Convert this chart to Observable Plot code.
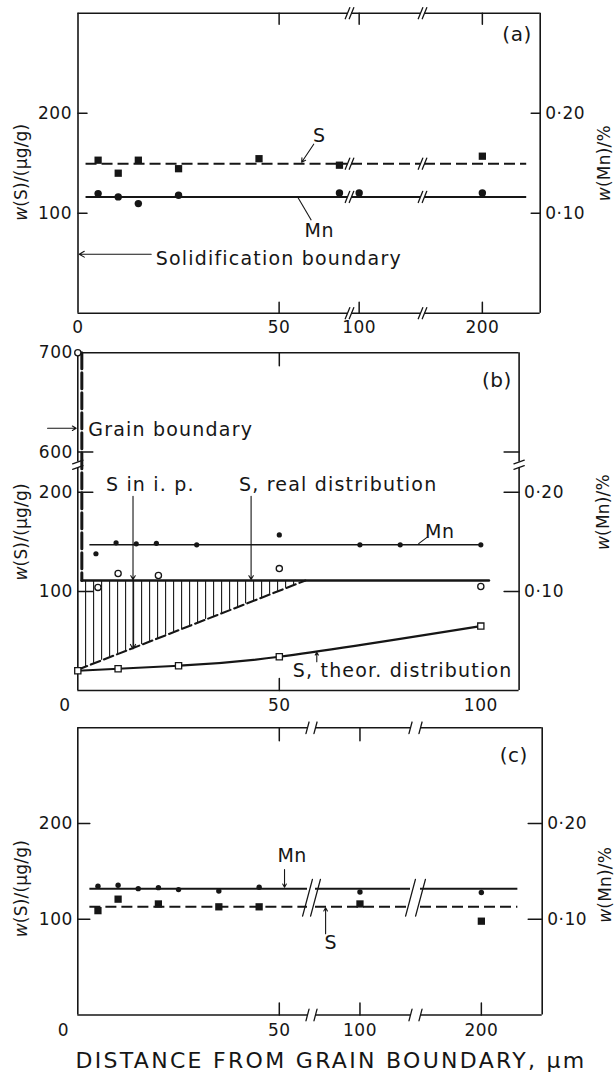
<!DOCTYPE html>
<html><head><meta charset="utf-8">
<script src="https://cdn.jsdelivr.net/npm/d3@7"></script>
<script src="https://cdn.jsdelivr.net/npm/@observablehq/plot@0.6"></script>
<style>
body{margin:0;background:#fff;}
#chart svg{display:block;}
</style></head><body><div id="chart"></div>
<script>
// ================= DATA =================
// ---- panel (a) ----
const aS_x   = [5, 10, 15, 25, 45, 65, 200];
const aS_y   = [153, 140, 153, 144.5, 154.5, 148, 157];          // w(S) µg/g
const aMn_x  = [5, 10, 15, 25, 65, 100, 200];
const aMn_y  = [0.1196, 0.1163, 0.1096, 0.118, 0.1203, 0.1203, 0.1203]; // w(Mn) %
const aS_level = 149.5;
const aMn_level = 0.1163;
const aXTicks = [0, 50, 100, 200];
const aXTickLabels = ["0", "50", "100", "200"];

// ---- panel (b) ----
const bMn_x = [4.5, 9.5, 14.5, 19.5, 29.5, 50, 70, 80, 100];
const bMn_y = [0.138, 0.149, 0.148, 0.1485, 0.147, 0.157, 0.147, 0.147, 0.147];
const bMn_level = 0.147;
const bSmeas_x = [0, 5, 10, 20, 50, 100];
const bSmeas_y = [700, 104, 118, 116, 123, 105];
const bTheor_x = [0, 10, 25, 50, 100];
const bTheor_y = [20, 22, 25, 34, 65];
const bReal_x = [1, 1, 102];          // real S distribution: spike at grain boundary then flat
const bReal_y = [700, 111, 111];
const bIP_x = [0, 56.5];              // lower limit of S in inclusion particles
const bIP_y = [21, 111];
const bXTicks = [50, 100];
const bXTickLabels = ["50", "100"];
const bYTicks = [100, 200, 600, 700];

// ---- panel (c) ----
const cMn_x = [5, 10, 15, 20, 25, 35, 45, 100, 200];
const cMn_y = [0.1345, 0.1355, 0.132, 0.133, 0.131, 0.1295, 0.1335, 0.1285, 0.128];
const cS_x  = [5, 10, 20, 35, 45, 100, 200];
const cS_y  = [109, 121, 116, 113, 113, 116, 98];
const cS_level = 113;
const cMn_level = 0.132;
const cXTicks = [50, 100, 200];
const cXTickLabels = ["50", "100", "200"];

// common
const yTicks = [100, 200];
const yRightLabels = ["0·10", "0·20"];
const leftTitle = "w(S)/(µg/g)";
const rightTitle = "w(Mn)/%";
const xTitle = "DISTANCE FROM GRAIN BOUNDARY, µm";
const MN_TO_S = 1000; // right axis: 0·10 % aligned with 100 µg/g

// ================= HELPERS =================
const ink = "#161616";
const baseStyle = {fontFamily: "DejaVu Sans", fontSize: "17px", background: "#fff", color: ink, overflow: "visible", letterSpacing: "0.5px"};
const pts = (xs, ys, k = 1) => xs.map((x, i) => ({x, y: ys[i] * k}));
const vec = (data, o) => Plot.vector(data, {r: 0, anchor: "start", stroke: ink, strokeWidth: 1.5, ...o});
const brk = (data, o) => Plot.vector(data, {r: 0, anchor: "middle", length: 12, rotate: 22, stroke: ink, strokeWidth: 1.3, ...o});
const segRule = (segs, y, o) => Plot.ruleY(segs, {y, x1: d => d[0], x2: d => d[1], stroke: ink, strokeWidth: 1.6, ...o});
const arrow = (d, o) => Plot.arrow([d], {x1: "x1", y1: "y1", x2: "x2", y2: "y2", stroke: ink, strokeWidth: 1.1, headLength: 7, ...o});
const label = (txt, x, y, o) => Plot.text([txt], {x: () => x, y: () => y, text: d => d, fill: ink, fontSize: 19, ...o});
const title = (txt, anchor, y, dx) => Plot.text([txt], {frameAnchor: anchor, y: () => y, dx, rotate: -90, textAnchor: "middle", text: d => d, fill: ink, fontSize: 17});

function yAxes(ticks, leftPad, rightPad) {
  return [
    Plot.axisY({anchor: "left", ticks, tickSize: 0, tickPadding: leftPad, label: null, tickFormat: d => String(d), fontSize: 17}),
    Plot.axisY({anchor: "right", ticks: yTicks, tickSize: 0, tickPadding: rightPad, label: null, tickFormat: d => yRightLabels[yTicks.indexOf(d)], fontSize: 17})
  ];
}

// ================= PANEL (a) =================
const aXDomain = [0, 67, 95, 140, 170, 230];
const aXRange  = [77.5, 347, 351, 420, 424, 539.7];
const aFrameSegs = [[0, 67], [95, 140], [170, 230]];
const aLineSegs  = [[2, 67], [95, 140], [170, 223]];
const aBreaks = [67, 95, 140, 170];

const A = Plot.plot({
  width: 614, height: 340, marginLeft: 77.5, marginRight: 74.3, marginTop: 12.7, marginBottom: 27.3,
  style: baseStyle,
  x: {type: "linear", domain: aXDomain, range: aXRange, axis: null},
  y: {type: "linear", domain: [0, 300]},
  marks: [
    segRule(aFrameSegs, 300), segRule(aFrameSegs, 0),
    Plot.ruleX([0, 230], {y1: 0, y2: 300, stroke: ink, strokeWidth: 1.6}),
    vec([50, 100, 200], {x: d => d, y: 300, rotate: 180, length: 11}),
    vec([50, 100, 200], {x: d => d, y: 0, rotate: 0, length: 11}),
    vec(yTicks, {x: 0, y: d => d, rotate: 90, length: 9}),
    vec(yTicks, {x: 230, y: d => d, rotate: 270, length: 9}),
    brk(aBreaks, {x: d => d, y: 300}), brk(aBreaks, {x: d => d, y: 0}),
    segRule(aLineSegs, aS_level, {strokeDasharray: "11,5", strokeWidth: 1.9}),
    segRule(aLineSegs, aMn_level * MN_TO_S, {strokeWidth: 2}),
    brk(aBreaks, {x: d => d, y: aS_level}), brk(aBreaks, {x: d => d, y: aMn_level * MN_TO_S}),
    Plot.dot(pts(aS_x, aS_y), {x: "x", y: "y", symbol: "square", r: 4.1, fill: ink}),
    Plot.dot(pts(aMn_x, aMn_y, MN_TO_S), {x: "x", y: "y", r: 3.7, fill: ink}),
    label("S", 60, 177),
    arrow({x1: 58.6, y1: 169, x2: 55.6, y2: 151}, {headLength: 6}),
    label("Mn", 60, 82),
    Plot.link([{x1: 58, y1: 93, x2: 54.5, y2: 117}], {x1: "x1", y1: "y1", x2: "x2", y2: "y2", stroke: ink, strokeWidth: 1.1}),
    arrow({x1: 18.2, y1: 59, x2: 0.3, y2: 59}, {headLength: 8}),
    label("Solidification boundary", 19.3, 54.5, {textAnchor: "start"}),
    label("(a)", 218, 279, {fontSize: 20}),
    Plot.text(aXTicks, {x: d => d, y: 0, dy: 14, text: (d, i) => aXTickLabels[i], fill: ink, fontSize: 17, lineAnchor: "middle"}),
    ...yAxes(yTicks, 6, 5),
    title(leftTitle, "left", 141, -56.5),
    title(rightTitle, "right", 150, 64)
  ]
});

// ================= PANEL (b) =================
const bXDomain = [0, 109.5];
const bXRange = [77.3, 518.6];
const bYDomain = [0, 225, 590, 700];
const bYRange = [350, 127, 121.5, 12.3];
const bSideSegs = [[0, 225], [590, 700]];
const bYBreaks = [225, 590];
const realPts = pts(bReal_x, bReal_y);

const B = Plot.plot({
  width: 614, height: 372, marginLeft: 77.3, marginRight: 95.4, marginTop: 12.3, marginBottom: 22,
  style: baseStyle,
  x: {type: "linear", domain: bXDomain, range: bXRange, axis: null},
  y: {type: "linear", domain: bYDomain, range: bYRange},
  marks: [
    // hatched region (S in inclusion particles)
    Plot.areaY(pts(bIP_x, bIP_y).map(d => ({x: d.x, y1: d.y, y2: bReal_y[2]})), {x: "x", y1: "y1", y2: "y2", fill: "url(#hatchB)"}),
    Plot.ruleY([700, 0], {x1: 0, x2: 109.5, stroke: ink, strokeWidth: 1.6}),
    Plot.ruleX(bSideSegs, {x: 0, y1: d => d[0], y2: d => d[1], stroke: ink, strokeWidth: 1.6}),
    Plot.ruleX(bSideSegs, {x: 109.5, y1: d => d[0], y2: d => d[1], stroke: ink, strokeWidth: 1.6}),
    brk(bYBreaks, {x: 0, y: d => d, rotate: 70, length: 11}),
    brk(bYBreaks, {x: 109.5, y: d => d, rotate: 70, length: 11}),
    vec([50], {x: d => d, y: 700, rotate: 180, length: 13}),
    vec([50], {x: d => d, y: 0, rotate: 0, length: 12}),
    vec([100, 200, 600], {x: 0, y: d => d, rotate: 90, length: 15}),
    vec([100, 200, 600], {x: 109.5, y: d => d, rotate: 270, length: 15}),
    Plot.line(pts(bIP_x, bIP_y), {x: "x", y: "y", stroke: ink, strokeWidth: 2.1, strokeDasharray: "10,4"}),
    Plot.line(realPts.slice(0, 2), {x: "x", y: "y", stroke: ink, strokeWidth: 3, strokeDasharray: "16,4"}),
    Plot.line(realPts.slice(1), {x: "x", y: "y", stroke: ink, strokeWidth: 2.7}),
    Plot.ruleY([bMn_level * MN_TO_S], {x1: 3, x2: 100, stroke: ink, strokeWidth: 1.4}),
    Plot.line(pts(bTheor_x, bTheor_y), {x: "x", y: "y", curve: "natural", stroke: ink, strokeWidth: 2.1}),
    Plot.dot(pts(bMn_x, bMn_y, MN_TO_S), {x: "x", y: "y", r: 2.6, fill: ink}),
    Plot.dot(pts(bSmeas_x, bSmeas_y), {x: "x", y: "y", r: 3.1, fill: "#fff", stroke: ink, strokeWidth: 1.3}),
    Plot.dot(pts(bTheor_x, bTheor_y), {x: "x", y: "y", symbol: "square", r: 3.5, fill: "#fff", stroke: ink, strokeWidth: 1.3}),
    // annotations
    arrow({x1: -7.5, y1: 624, x2: -0.4, y2: 624}, {headLength: 6}),
    label("Grain boundary", 2.6, 622, {textAnchor: "start"}),
    label("S in i. p.", 18, 207),
    arrow({x1: 13.7, y1: 196, x2: 13.7, y2: 112}, {headLength: 6}),
    arrow({x1: 13.7, y1: 112, x2: 13.7, y2: 42}, {headLength: 7}),
    label("S, real distribution", 64.6, 207),
    arrow({x1: 43, y1: 196, x2: 43, y2: 112}, {headLength: 6}),
    label("S, theor. distribution", 80.6, 20),
    arrow({x1: 59.3, y1: 29, x2: 59.3, y2: 38.5}, {headLength: 5}),
    label("Mn", 89.8, 160),
    Plot.link([{x1: 86.8, y1: 155, x2: 84.5, y2: 148}], {x1: "x1", y1: "y1", x2: "x2", y2: "y2", stroke: ink, strokeWidth: 1.1}),
    label("(b)", 104, 672, {fontSize: 20}),
    Plot.text(bXTicks, {x: d => d, y: 0, dy: 15, text: (d, i) => bXTickLabels[i], fill: ink, fontSize: 17, lineAnchor: "middle"}),
    Plot.text(["0"], {x: () => 0, y: 0, dx: -13, dy: 15, text: d => d, fill: ink, fontSize: 17, lineAnchor: "middle"}),
    ...yAxes(bYTicks, 5, 5),
    title(leftTitle, "left", 160, -55.8),
    title(rightTitle, "right", 180, 84.4)
  ]
});
// hatch pattern
const ns = "http://www.w3.org/2000/svg";
const svgB = B.tagName.toLowerCase() === "svg" ? B : B.querySelector("svg");
const defs = document.createElementNS(ns, "defs");
defs.innerHTML = `<pattern id="hatchB" patternUnits="userSpaceOnUse" x="5" y="0" width="8" height="12"><line x1="0.6" y1="0" x2="0.6" y2="12" stroke="${ink}" stroke-width="1.1"/></pattern>`;
svgB.insertBefore(defs, svgB.firstChild);

// ================= PANEL (c) =================
const cXDomain = [0, 57, 78, 125, 170, 230];
const cXRange  = [77.3, 307, 315, 410, 420, 541.7];
const cFrameSegs = [[0, 57], [78, 125], [170, 230]];
const cLineSegs  = [[3, 57], [78, 125], [170, 218]];
const cBreaks = [57, 78, 125, 170];
const cMid = (cMn_level * MN_TO_S + cS_level) / 2;

const C = Plot.plot({
  width: 614, height: 365, marginLeft: 77.3, marginRight: 72.3, marginTop: 15.3, marginBottom: 62.5,
  style: baseStyle,
  x: {type: "linear", domain: cXDomain, range: cXRange, axis: null},
  y: {type: "linear", domain: [0, 300]},
  marks: [
    segRule(cFrameSegs, 300), segRule(cFrameSegs, 0),
    Plot.ruleX([0, 230], {y1: 0, y2: 300, stroke: ink, strokeWidth: 1.6}),
    vec([50, 100], {x: d => d, y: 300, rotate: 180, length: 13}),
    vec([50, 100, 200], {x: d => d, y: 0, rotate: 0, length: 12}),
    vec(yTicks, {x: 0, y: d => d, rotate: 90, length: 12}),
    vec(yTicks, {x: 230, y: d => d, rotate: 270, length: 14}),
    brk(cBreaks, {x: d => d, y: 300, rotate: 15}), brk(cBreaks, {x: d => d, y: 0, rotate: 15}),
    segRule(cLineSegs, cMn_level * MN_TO_S, {strokeWidth: 2}),
    segRule(cLineSegs, cS_level, {strokeDasharray: "11,5", strokeWidth: 1.9}),
    brk(cBreaks, {x: d => d, y: cMid, rotate: 15, length: 38}),
    Plot.dot(pts(cS_x, cS_y), {x: "x", y: "y", symbol: "square", r: 4.1, fill: ink}),
    Plot.dot(pts(cMn_x, cMn_y, MN_TO_S), {x: "x", y: "y", r: 2.7, fill: ink}),
    label("Mn", 53.2, cMn_level * MN_TO_S + 34),
    arrow({x1: 51.3, y1: cMn_level * MN_TO_S + 20, x2: 51.3, y2: cMn_level * MN_TO_S + 1.5}, {headLength: 5}),
    label("S", 85.6, cS_level - 38),
    arrow({x1: 83, y1: cS_level - 28, x2: 83, y2: cS_level - 1}, {headLength: 5}),
    label("(c)", 216, 271, {fontSize: 20}),
    Plot.text(cXTicks, {x: d => d, y: 0, dy: 16, text: (d, i) => cXTickLabels[i], fill: ink, fontSize: 17, lineAnchor: "middle"}),
    Plot.text(["0"], {x: () => 0, y: 0, dx: -14.5, dy: 16, text: d => d, fill: ink, fontSize: 17, lineAnchor: "middle"}),
    ...yAxes(yTicks, 5, 5),
    title(leftTitle, "left", 132, -55.8),
    title(rightTitle, "right", 136, 63.3),
    Plot.text([xTitle], {frameAnchor: "bottom", dx: 21, dy: 45.5, text: d => d, fill: ink, fontSize: 22, lineAnchor: "middle"})
  ]
});

const chart = document.getElementById("chart");
[A, B, C].forEach(p => chart.appendChild(p));

// italic "w" in axis titles; letter spacing for annotations and the x title
const annotations = ["Solidification boundary", "Grain boundary", "S in i. p.", "S, real distribution", "S, theor. distribution"];
chart.querySelectorAll("text").forEach(t => {
  const s = t.textContent;
  if (s === xTitle) t.style.letterSpacing = "2.3px";
  if (annotations.includes(s)) t.style.letterSpacing = "1.2px";
  if (s.startsWith("w(") && t.children.length === 0) {
    t.style.letterSpacing = "0.2px";
    t.textContent = "";
    const a = document.createElementNS(ns, "tspan"); a.textContent = "w"; a.setAttribute("font-style", "italic");
    const b = document.createElementNS(ns, "tspan"); b.textContent = s.slice(1);
    t.appendChild(a); t.appendChild(b);
  }
});
</script></body></html>
